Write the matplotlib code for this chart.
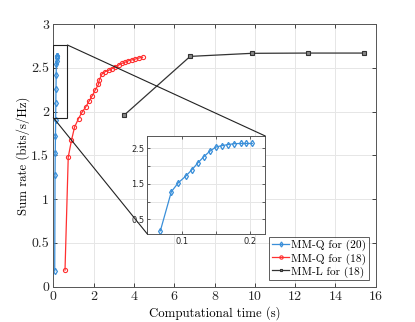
import matplotlib
matplotlib.use("Agg")
import matplotlib.pyplot as plt
from matplotlib.patches import Rectangle, ConnectionPatch
from matplotlib.ticker import FuncFormatter, MultipleLocator

plt.rcParams['font.family'] = ['cmr10', 'DejaVu Serif']
plt.rcParams['axes.formatter.use_mathtext'] = True

# data
q20_t = [0.069, 0.085, 0.095, 0.106, 0.115, 0.124, 0.132, 0.141, 0.150,
         0.159, 0.168, 0.177, 0.186, 0.194, 0.203]
q20_r = [0.18, 1.28, 1.53, 1.72, 1.90, 2.10, 2.26, 2.42, 2.54,
         2.58, 2.61, 2.635, 2.64, 2.64, 2.64]

q18_t = [0.58, 0.74, 0.90, 1.05, 1.25, 1.42, 1.60, 1.78, 1.93, 2.09, 2.24,
         2.28, 2.42, 2.57, 2.74, 2.91, 3.07, 3.24, 3.40, 3.57, 3.73, 3.90,
         4.07, 4.23, 4.43]
q18_r = [0.19, 1.48, 1.67, 1.82, 1.92, 1.99, 2.05, 2.12, 2.18, 2.25, 2.31,
         2.36, 2.43, 2.455, 2.47, 2.49, 2.51, 2.53, 2.55, 2.565, 2.58, 2.59,
         2.60, 2.61, 2.62]

l18_t = [3.52, 6.79, 9.85, 12.66, 15.40]
l18_r = [1.96, 2.63, 2.665, 2.668, 2.668]

labels = ['MM-Q for (20)', 'MM-Q for (18)', 'MM-L for (18)']

blue = '#3a8fd9'
red = '#ff3030'
black = '#333333'

fig = plt.figure(figsize=(4.15, 3.22), dpi=100)
ax = fig.add_axes([0.1285, 0.1096, 0.7768, 0.8159])

ax.plot(q20_t, q20_r, color=blue, lw=0.9, marker='d', ms=3.2, mfc='none',
        mew=0.9, label=labels[0])
ax.plot(q18_t, q18_r, color=red, lw=0.9, marker='o', ms=3.0, mfc='none',
        mew=0.8, label=labels[1])
ax.plot(l18_t, l18_r, color=black, lw=0.9, marker='s', ms=2.5, mfc='#888888',
        mew=0.8, label=labels[2])

ax.set_xlim(0, 16)
ax.set_ylim(0, 3)
ax.xaxis.set_major_locator(MultipleLocator(2))
ax.yaxis.set_major_locator(MultipleLocator(0.5))
fmt = FuncFormatter(lambda v, p: '%g' % v)
ax.xaxis.set_major_formatter(fmt)
ax.yaxis.set_major_formatter(fmt)
ax.grid(True, color='#e6e6e6', lw=0.7)
ax.set_axisbelow(True)
ax.tick_params(direction='in', top=True, right=True, length=3, width=0.6,
               labelsize=10, colors='#262626', pad=3)
for s in ax.spines.values():
    s.set_color('#555555')
    s.set_linewidth(0.7)
ax.set_xlabel('Computational time (s)', fontsize=9.2, labelpad=2)
ax.set_ylabel('Sum rate (bits/s/Hz)', fontsize=9.2, labelpad=1)

leg = ax.legend(loc='lower right', fontsize=8.2, frameon=True, fancybox=False,
                edgecolor='#333333', handlelength=1.5, handletextpad=0.2,
                borderpad=0.25, labelspacing=0.15, borderaxespad=0.55,
                markerscale=0.8)
leg.get_frame().set_linewidth(0.7)

# zoom rectangle
ax.add_patch(Rectangle((0, 1.93), 0.7, 0.83, fill=False, ec='#222222', lw=0.8,
                       zorder=5))

ins = fig.add_axes([0.355, 0.2733, 0.2843, 0.3043])
ins.plot(q20_t, q20_r, color=blue, lw=0.9, marker='d', ms=3.2, mfc='none',
         mew=0.9)
ins.set_xlim(0.053, 0.222)
ins.set_ylim(0.09, 2.85)
ins.set_xticks([0.05, 0.1, 0.15, 0.2])
ins.set_xticklabels(['', '0.1', '', '0.2'])
ins.set_yticks([0.5, 1.0, 1.5, 2.0, 2.5])
ins.set_yticklabels(['0.5', '', '1.5', '', '2.5'])
ins.grid(True, color='#e6e6e6', lw=0.7)
ins.set_axisbelow(True)
ins.tick_params(direction='in', top=True, right=True, length=2, width=0.5,
                labelsize=6, colors='#262626', pad=2)
for lab in ins.get_xticklabels() + ins.get_yticklabels():
    lab.set_family('DejaVu Sans')
for s in ins.spines.values():
    s.set_color('#555555')
    s.set_linewidth(0.7)

for xyA, xyB in [((0.7, 2.76), (1, 1)), ((0, 1.93), (0, 0))]:
    cp = ConnectionPatch(xyA=xyA, coordsA=ax.transData, xyB=xyB,
                         coordsB=ins.transAxes, color='#222222', lw=0.8)
    fig.add_artist(cp)

fig.savefig('out.png', dpi=100)
